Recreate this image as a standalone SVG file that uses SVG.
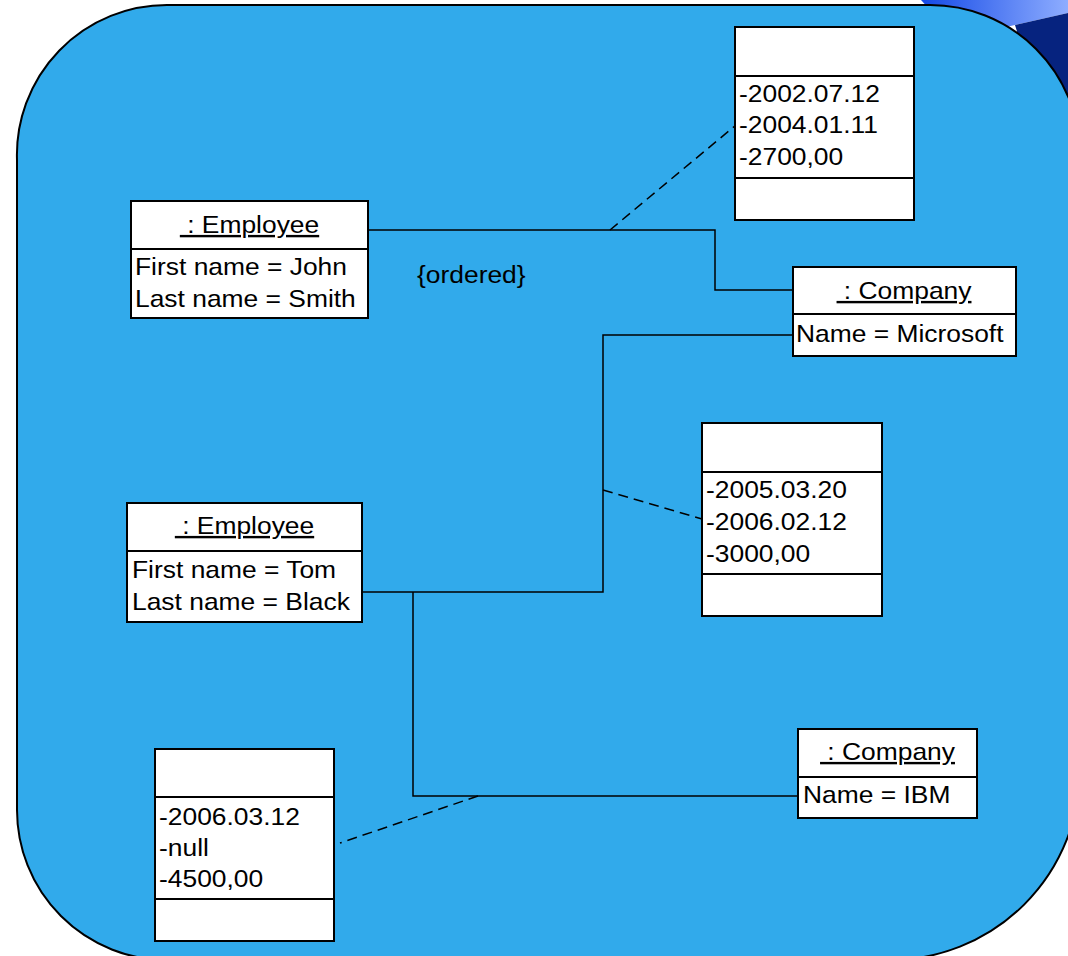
<svg xmlns="http://www.w3.org/2000/svg" width="1068" height="956" viewBox="0 0 1068 956">
  <defs>
    <linearGradient id="band" x1="0" y1="0" x2="1" y2="0">
      <stop offset="0" stop-color="#1449e6"/>
      <stop offset="1" stop-color="#8eadff"/>
    </linearGradient>
    <style>
      .box { fill: #ffffff; stroke: #000000; stroke-width: 2; }
      .div { stroke: #000000; stroke-width: 2; fill: none; }
      .t { font-family: "Liberation Sans", Arial, sans-serif; font-size: 24px; fill: #000000; }
      .title { text-anchor: middle; text-decoration: underline; }
      .link { fill: none; stroke: #000000; stroke-width: 1.5; }
      .dash { fill: none; stroke: #000000; stroke-width: 1.5; stroke-dasharray: 10,6; }
    </style>
  </defs>
  <rect x="0" y="0" width="1068" height="956" fill="#ffffff"/>
  <g id="decoration">
    <polygon points="921,0 1068,0 1068,13 1002,28 930,10" fill="url(#band)"/>
    <polygon points="1015,25 1068,13 1068,300 1060,300 1035,90" fill="#06237f"/>
  </g>
  <path id="background" d="M17,160 A150,150 0 0 1 167,5 L930,5 A150,150 0 0 1 1080,155 L1080,770 A190,190 0 0 1 890,960 L167,960 A150,150 0 0 1 17,810 Z" fill="#31aaeb" stroke="#000000" stroke-width="2"/>

  <g id="connectors">
    <polyline class="link" points="368,230 715,230 715,290 793,290"/>
    <line class="dash" x1="610" y1="230" x2="736" y2="125"/>
    <polyline class="link" points="793,335 603,335 603,592 361,592"/>
    <line class="dash" x1="603" y1="490" x2="702" y2="519"/>
    <polyline class="link" points="413,592 413,796 799,796"/>
    <line class="dash" x1="478" y1="796" x2="340" y2="843"/>
  </g>
  <text id="ordered" class="t" transform="matrix(1.1 0 0 1 417 283)">{ordered}</text>

  <g id="employee1">
    <rect class="box" x="131" y="201" width="237" height="117"/>
    <line class="div" x1="131" y1="249" x2="368" y2="249"/>
    <text class="t title" xml:space="preserve" transform="matrix(1.1 0 0 1 249.5 233)"> : Employee</text>
    <text class="t" transform="matrix(1.1 0 0 1 135 275)">First name = John</text>
    <text class="t" transform="matrix(1.1 0 0 1 135 307)">Last name = Smith</text>
  </g>

  <g id="link1">
    <rect class="box" x="735" y="27" width="179" height="193"/>
    <line class="div" x1="735" y1="76" x2="914" y2="76"/>
    <line class="div" x1="735" y1="178" x2="914" y2="178"/>
    <text class="t" transform="matrix(1.1 0 0 1 739 102)">-2002.07.12</text>
    <text class="t" transform="matrix(1.1 0 0 1 739 133)">-2004.01.11</text>
    <text class="t" transform="matrix(1.1 0 0 1 739 165)">-2700,00</text>
  </g>

  <g id="company1">
    <rect class="box" x="793" y="267" width="223" height="89"/>
    <line class="div" x1="793" y1="314" x2="1016" y2="314"/>
    <text class="t title" xml:space="preserve" transform="matrix(1.1 0 0 1 904 299)"> : Company</text>
    <text class="t" transform="matrix(1.1 0 0 1 796 342)">Name = Microsoft</text>
  </g>

  <g id="link2">
    <rect class="box" x="702" y="423" width="180" height="193"/>
    <line class="div" x1="702" y1="472" x2="882" y2="472"/>
    <line class="div" x1="702" y1="574" x2="882" y2="574"/>
    <text class="t" transform="matrix(1.1 0 0 1 706 498)">-2005.03.20</text>
    <text class="t" transform="matrix(1.1 0 0 1 706 530)">-2006.02.12</text>
    <text class="t" transform="matrix(1.1 0 0 1 706 562)">-3000,00</text>
  </g>

  <g id="employee2">
    <rect class="box" x="127" y="503" width="235" height="119"/>
    <line class="div" x1="127" y1="551" x2="362" y2="551"/>
    <text class="t title" xml:space="preserve" transform="matrix(1.1 0 0 1 244.5 534)"> : Employee</text>
    <text class="t" transform="matrix(1.1 0 0 1 132 578)">First name = Tom</text>
    <text class="t" transform="matrix(1.1 0 0 1 132 610)">Last name = Black</text>
  </g>

  <g id="link3">
    <rect class="box" x="155" y="749" width="179" height="192"/>
    <line class="div" x1="155" y1="797" x2="334" y2="797"/>
    <line class="div" x1="155" y1="899" x2="334" y2="899"/>
    <text class="t" transform="matrix(1.1 0 0 1 159 825)">-2006.03.12</text>
    <text class="t" transform="matrix(1.1 0 0 1 159 856)">-null</text>
    <text class="t" transform="matrix(1.1 0 0 1 159 887)">-4500,00</text>
  </g>

  <g id="company2">
    <rect class="box" x="798" y="729" width="179" height="89"/>
    <line class="div" x1="798" y1="777" x2="977" y2="777"/>
    <text class="t title" xml:space="preserve" transform="matrix(1.1 0 0 1 887.5 760)"> : Company</text>
    <text class="t" transform="matrix(1.1 0 0 1 803 803)">Name = IBM</text>
  </g>
</svg>
